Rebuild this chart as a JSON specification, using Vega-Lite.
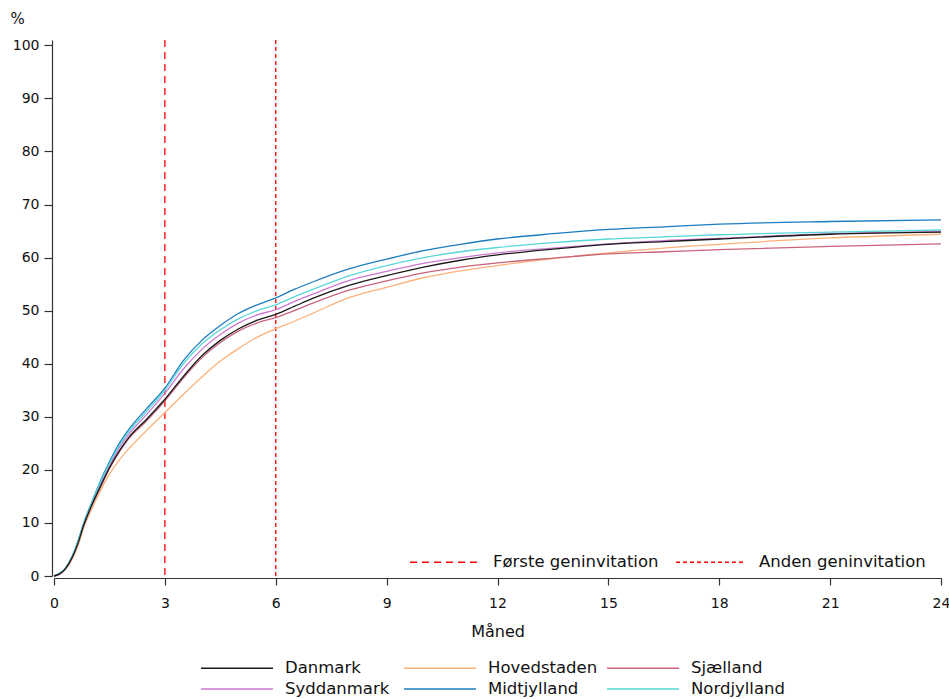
{
  "$schema": "https://vega.github.io/schema/vega-lite/v6.json",
  "width": 887,
  "height": 536,
  "autosize": {"type": "none"},
  "padding": {"left": 54, "top": 40, "right": 8, "bottom": 123},
  "background": "white",
  "config": {
    "view": {"stroke": null},
    "font": "DejaVu Sans",
    "axis": {"grid": false, "domainColor": "#333333", "tickColor": "#333333", "labelColor": "#111111", "titleColor": "#111111", "labelFont": "DejaVu Sans", "titleFont": "DejaVu Sans", "titleFontWeight": "normal", "domainWidth": 1.2, "tickWidth": 1.2, "labelFlush": false},
    "legend": {"labelFont": "DejaVu Sans", "labelColor": "#111111", "labelFontSize": 16.5, "padding": 0, "labelLimit": 400}
  },
  "layer": [
    {
      "data": {"values": [
        {"m": 3, "label": "Første geninvitation"},
        {"m": 6, "label": "Anden geninvitation"}
      ]},
      "mark": {"type": "rule", "color": "#ff0000", "strokeWidth": 1.3},
      "encoding": {
        "x": {"field": "m", "type": "quantitative", "scale": {"domain": [0, 24], "nice": false}},
        "strokeDash": {
          "field": "label", "type": "nominal",
          "scale": {"domain": ["Første geninvitation", "Anden geninvitation"], "range": [[7, 5], [4, 3]]},
          "legend": {"title": null, "orient": "none", "legendX": 355, "legendY": 514, "direction": "horizontal", "symbolType": "stroke", "symbolSize": 4900, "symbolStrokeColor": "#ff0000", "symbolStrokeWidth": 1.3, "labelFontSize": 16.5, "labelOffset": 12, "columnPadding": 16, "clipHeight": 16, "labelLimit": 400}
        }
      }
    },
    {
      "data": {"values": [
        {"m": 0, "Danmark": 0, "Hovedstaden": 0, "Sjælland": 0, "Syddanmark": 0, "Midtjylland": 0, "Nordjylland": 0},
        {"m": 0.15, "Danmark": 0.4, "Hovedstaden": 0.3, "Sjælland": 0.4, "Syddanmark": 0.4, "Midtjylland": 0.5, "Nordjylland": 0.5},
        {"m": 0.3, "Danmark": 1.3, "Hovedstaden": 1.1, "Sjælland": 1.3, "Syddanmark": 1.3, "Midtjylland": 1.4, "Nordjylland": 1.4},
        {"m": 0.5, "Danmark": 3.6, "Hovedstaden": 3.3, "Sjælland": 3.6, "Syddanmark": 3.7, "Midtjylland": 3.8, "Nordjylland": 3.8},
        {"m": 0.65, "Danmark": 6.2, "Hovedstaden": 5.7, "Sjælland": 6.2, "Syddanmark": 6.4, "Midtjylland": 6.6, "Nordjylland": 6.5},
        {"m": 0.8, "Danmark": 9.5, "Hovedstaden": 9.0, "Sjælland": 9.4, "Syddanmark": 9.7, "Midtjylland": 9.9, "Nordjylland": 9.8},
        {"m": 1, "Danmark": 13.0, "Hovedstaden": 12.3, "Sjælland": 12.9, "Syddanmark": 13.2, "Midtjylland": 13.5, "Nordjylland": 13.4},
        {"m": 1.25, "Danmark": 16.8, "Hovedstaden": 16.0, "Sjælland": 16.6, "Syddanmark": 17.2, "Midtjylland": 17.8, "Nordjylland": 17.6},
        {"m": 1.5, "Danmark": 20.4, "Hovedstaden": 19.2, "Sjælland": 20.2, "Syddanmark": 20.8, "Midtjylland": 21.5, "Nordjylland": 21.2},
        {"m": 1.75, "Danmark": 23.4, "Hovedstaden": 21.7, "Sjælland": 23.2, "Syddanmark": 24.0, "Midtjylland": 24.8, "Nordjylland": 24.4},
        {"m": 2, "Danmark": 25.9, "Hovedstaden": 23.8, "Sjælland": 25.7, "Syddanmark": 26.5, "Midtjylland": 27.4, "Nordjylland": 27.0},
        {"m": 2.5, "Danmark": 29.5, "Hovedstaden": 27.4, "Sjælland": 29.2, "Syddanmark": 30.4, "Midtjylland": 31.5, "Nordjylland": 31.0},
        {"m": 3, "Danmark": 33.3, "Hovedstaden": 30.8, "Sjælland": 33.0, "Syddanmark": 34.4, "Midtjylland": 35.4, "Nordjylland": 35.0},
        {"m": 3.5, "Danmark": 37.6, "Hovedstaden": 34.2, "Sjælland": 37.3, "Syddanmark": 39.0, "Midtjylland": 40.6, "Nordjylland": 40.0},
        {"m": 4, "Danmark": 41.5, "Hovedstaden": 37.5, "Sjælland": 41.1, "Syddanmark": 42.7, "Midtjylland": 44.4, "Nordjylland": 43.7},
        {"m": 4.5, "Danmark": 44.4, "Hovedstaden": 40.5, "Sjælland": 44.0, "Syddanmark": 45.5, "Midtjylland": 47.2, "Nordjylland": 46.4},
        {"m": 5, "Danmark": 46.6, "Hovedstaden": 42.9, "Sjælland": 46.2, "Syddanmark": 47.7, "Midtjylland": 49.5, "Nordjylland": 48.5},
        {"m": 5.5, "Danmark": 48.2, "Hovedstaden": 45.0, "Sjælland": 47.7, "Syddanmark": 49.2, "Midtjylland": 51.1, "Nordjylland": 50.0},
        {"m": 6, "Danmark": 49.3, "Hovedstaden": 46.6, "Sjælland": 48.7, "Syddanmark": 50.2, "Midtjylland": 52.4, "Nordjylland": 51.1},
        {"m": 6.5, "Danmark": 50.8, "Hovedstaden": 48.0, "Sjælland": 50.0, "Syddanmark": 51.7, "Midtjylland": 54.0, "Nordjylland": 52.6},
        {"m": 7, "Danmark": 52.3, "Hovedstaden": 49.5, "Sjælland": 51.4, "Syddanmark": 53.1, "Midtjylland": 55.4, "Nordjylland": 54.0},
        {"m": 8, "Danmark": 54.8, "Hovedstaden": 52.5, "Sjælland": 53.9, "Syddanmark": 55.7, "Midtjylland": 57.9, "Nordjylland": 56.6},
        {"m": 9, "Danmark": 56.6, "Hovedstaden": 54.4, "Sjælland": 55.6, "Syddanmark": 57.4, "Midtjylland": 59.7, "Nordjylland": 58.5},
        {"m": 10, "Danmark": 58.2, "Hovedstaden": 56.2, "Sjælland": 57.1, "Syddanmark": 58.9, "Midtjylland": 61.3, "Nordjylland": 60.0},
        {"m": 11, "Danmark": 59.5, "Hovedstaden": 57.5, "Sjælland": 58.2, "Syddanmark": 60.0, "Midtjylland": 62.5, "Nordjylland": 61.1},
        {"m": 12, "Danmark": 60.5, "Hovedstaden": 58.5, "Sjælland": 59.0, "Syddanmark": 60.9, "Midtjylland": 63.5, "Nordjylland": 61.9},
        {"m": 13.5, "Danmark": 61.6, "Hovedstaden": 59.8, "Sjælland": 59.9, "Syddanmark": 61.8, "Midtjylland": 64.5, "Nordjylland": 62.8},
        {"m": 15, "Danmark": 62.5, "Hovedstaden": 60.9, "Sjælland": 60.7, "Syddanmark": 62.6, "Midtjylland": 65.3, "Nordjylland": 63.5},
        {"m": 16.5, "Danmark": 63.0, "Hovedstaden": 61.8, "Sjælland": 61.1, "Syddanmark": 63.2, "Midtjylland": 65.8, "Nordjylland": 63.9},
        {"m": 18, "Danmark": 63.5, "Hovedstaden": 62.5, "Sjælland": 61.5, "Syddanmark": 63.6, "Midtjylland": 66.3, "Nordjylland": 64.3},
        {"m": 21, "Danmark": 64.4, "Hovedstaden": 63.7, "Sjælland": 62.1, "Syddanmark": 64.5, "Midtjylland": 66.8, "Nordjylland": 64.8},
        {"m": 24, "Danmark": 64.8, "Hovedstaden": 64.4, "Sjælland": 62.6, "Syddanmark": 64.9, "Midtjylland": 67.1, "Nordjylland": 65.2}
      ]},
      "transform": [
        {"fold": ["Hovedstaden", "Sjælland", "Syddanmark", "Midtjylland", "Nordjylland", "Danmark"], "as": ["region", "pct"]}
      ],
      "mark": {"type": "line", "strokeWidth": 1.3, "interpolate": "monotone"},
      "encoding": {
        "x": {
          "field": "m", "type": "quantitative",
          "scale": {"domain": [0, 24], "nice": false},
          "axis": {"values": [0, 3, 6, 9, 12, 15, 18, 21, 24], "title": "Måned", "offset": 2, "tickSize": 7, "labelPadding": 11, "labelFontSize": 14, "titleFontSize": 16, "titlePadding": 13}
        },
        "y": {
          "field": "pct", "type": "quantitative",
          "scale": {"domain": [0, 101], "nice": false},
          "axis": {"values": [0, 10, 20, 30, 40, 50, 60, 70, 80, 90, 100], "title": "%", "titleAngle": 0, "titleAlign": "left", "titleBaseline": "alphabetic", "titleX": -42, "titleY": -17, "titleFontSize": 15, "offset": 2, "tickSize": 8, "labelPadding": 5, "labelFontSize": 14}
        },
        "color": {
          "field": "region", "type": "nominal",
          "scale": {
            "domain": ["Danmark", "Hovedstaden", "Sjælland", "Syddanmark", "Midtjylland", "Nordjylland"],
            "range": ["#1a1a1a", "#fbb27a", "#c9647a", "#cc79d2", "#1c7cbf", "#58d6d8"]
          },
          "legend": {"title": null, "orient": "none", "legendX": 146, "legendY": 620, "direction": "horizontal", "columns": 3, "gridAlign": "all", "columnPadding": 8, "rowPadding": 4, "symbolType": "stroke", "symbolSize": 5184, "symbolStrokeWidth": 1.3, "labelFontSize": 16.5, "labelOffset": 11, "clipHeight": 16}
        }
      }
    }
  ]
}
